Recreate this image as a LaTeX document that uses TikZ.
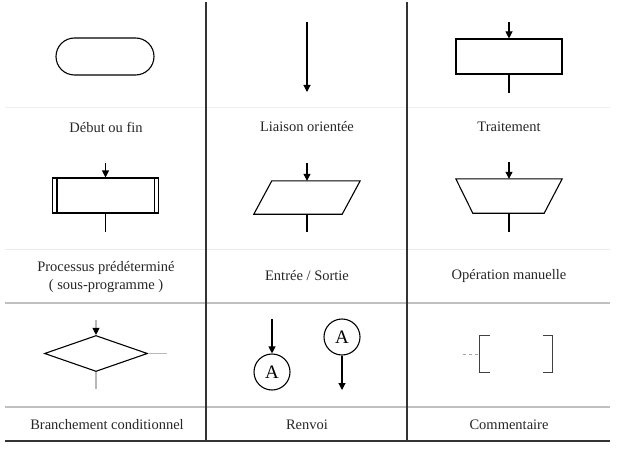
\documentclass[tikz,border=0pt]{standalone}
\usepackage{fontspec}
\setmainfont{Liberation Serif}
\usepackage{tikz}
\usetikzlibrary{arrows.meta}
\usetikzlibrary{positioning, shapes.geometric, shapes.misc}
\tikzset{
shape line/.style = { draw = black, line width = 1.1pt, inner sep = 0pt },
terminal/.style = { shape line, rounded rectangle, minimum width = 98pt, minimum height = 37pt },
traitement/.style = { shape line, rectangle, minimum width = 106pt, minimum height = 35pt },
boite/.style = { rectangle, inner sep = 0pt, minimum width = 106pt, minimum height = 34pt },
branchement/.style = { shape line, diamond, minimum width = 103pt, minimum height = 36pt },
renvoi/.style = { shape line, circle, minimum size = 36pt, font = \fontsize{19}{19}\selectfont },
legende/.style = { black!85, align = center, font = \fontsize{14.5}{18}\selectfont },
flow/.style = { -{Triangle[length = 7pt, width = 7pt]}, line width = 1.1pt },
sortie/.style = { line width = 1.1pt },
pale/.style = { black!28, line width = 1.1pt },
separateur/.style = { black!80, line width = 1.5pt },
}

\begin{document}
\begin{tikzpicture}[x = 1pt, y = -1pt]
  \useasboundingbox (0, 0) rectangle (620, 449);
  % grille
  \draw[black!6, line width = 1pt] (5, 108) -- (610, 108);
  \draw[black!8, line width = 1pt] (5, 249) -- (610, 249);
  \draw[black!25, line width = 1.5pt] (5, 303) -- (610, 303);
  \draw[black!25, line width = 1.5pt] (5, 407) -- (610, 407);
  \draw[separateur] (206, 2) -- (206, 441);
  \draw[separateur] (407, 2) -- (407, 441);
  \draw[separateur] (5, 441) -- (610, 441);

  % ligne 1
  \node[terminal] (debut) at (105, 56.5) {};
  \node[legende] (l-debut) at (106, 127) {Début ou fin};

  \coordinate (liaison-haut) at (307, 22);
  \coordinate (liaison-bas) at (307, 92);
  \draw[flow] (liaison-haut) -- (liaison-bas);
  \node[legende] (l-liaison) at (307, 127) {Liaison orientée};

  \node[traitement] (trait) at (509, 56.5) {};
  \coordinate (trait-in) at (509, 22);
  \coordinate (trait-out) at (509, 93);
  \draw[flow] (trait-in) -- (trait.north);
  \draw[sortie] (trait.south) -- (trait-out);
  \node[legende] (l-trait) at (509, 127) {Traitement};

  % ligne 2
  \node[traitement] (predef) at (105.5, 195.5) {};
  \draw[sortie] ([xshift = 5pt]predef.north west) -- ([xshift = 5pt]predef.south west);
  \draw[sortie] ([xshift = -5pt]predef.north east) -- ([xshift = -5pt]predef.south east);
  \coordinate (predef-in) at (105.5, 163);
  \coordinate (predef-out) at (105.5, 232);
  \draw[flow] (predef-in) -- (predef.north);
  \draw[sortie] (predef.south) -- (predef-out);
  \node[legende] (l-predef) at (106, 277) {Processus prédéterminé\\( sous-programme )};

  \node[boite, minimum height = 33pt] (es) at (307, 197.5) {};
  \draw[shape line] ([xshift = 18pt]es.north west) -- (es.north east) -- ([xshift = -18pt]es.south east) -- (es.south west) -- cycle;
  \coordinate (es-in) at (307, 163);
  \coordinate (es-out) at (307, 232);
  \draw[flow] (es-in) -- (es.north);
  \draw[sortie] (es.south) -- (es-out);
  \node[legende] (l-es) at (307, 276) {Entrée / Sortie};

  \node[boite] (manu) at (509, 196) {};
  \draw[shape line] (manu.north west) -- (manu.north east) -- ([xshift = -18pt]manu.south east) -- ([xshift = 17pt]manu.south west) -- cycle;
  \coordinate (manu-in) at (509, 162);
  \coordinate (manu-out) at (509, 232);
  \draw[flow] (manu-in) -- (manu.north);
  \draw[sortie] (manu.south) -- (manu-out);
  \node[legende] (l-manu) at (509, 276) {Opération manuelle};

  % ligne 3
  \node[branchement] (cond) at (96, 353.5) {};
  \coordinate (cond-in) at (96, 320);
  \coordinate (cond-oui) at (167, 353.5);
  \coordinate (cond-non) at (96, 389);
  \draw[pale, -{Triangle[length = 7pt, width = 7pt, color = black]}] (cond-in) -- (cond.north);
  \draw[pale] (cond.east) -- (cond-oui);
  \draw[pale] (cond.south) -- (cond-non);
  \node[legende] (l-cond) at (107, 425) {Branchement conditionnel};

  \node[renvoi] (renvoiA) at (272, 372) {A};
  \node[renvoi] (renvoiB) at (342, 337) {A};
  \coordinate (renvoiA-in) at (272, 319);
  \coordinate (renvoiB-out) at (342, 390);
  \draw[flow] (renvoiA-in) -- (renvoiA.north);
  \draw[flow] (renvoiB.south) -- (renvoiB-out);
  \node[legende] (l-renvoi) at (307, 425) {Renvoi};

  \node[minimum width = 72pt, minimum height = 36pt, inner sep = 0pt] (comm) at (516, 354) {};
  \coordinate (comm-in) at (463, 354);
  \draw[black!35, dashed, line width = 1pt] (comm-in) -- (comm.west);
  \draw[black!75, line width = 1.3pt] ([xshift = 10pt]comm.north west) -- (comm.north west) -- (comm.south west) -- ([xshift = 10pt]comm.south west);
  \draw[black!75, line width = 1.3pt] ([xshift = -9pt]comm.north east) -- (comm.north east) -- (comm.south east) -- ([xshift = -9pt]comm.south east);
  \node[legende] (l-comm) at (509, 425) {Commentaire};
\end{tikzpicture}
\end{document}
